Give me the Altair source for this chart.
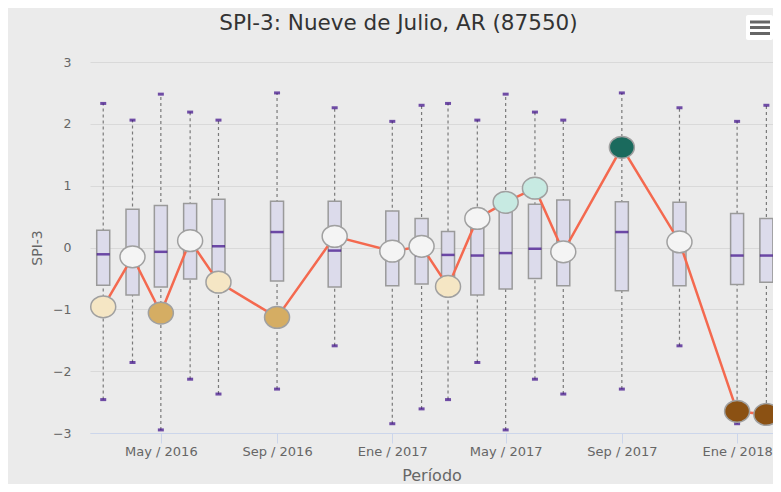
import altair as alt
import pandas as pd

# ---- data ----
periods = ["2016-03-01", "2016-04-01", "2016-05-01", "2016-06-01", "2016-07-01",
           "2016-09-01", "2016-11-01", "2017-01-01", "2017-02-01", "2017-03-01",
           "2017-04-01", "2017-05-01", "2017-06-01", "2017-07-01", "2017-09-01",
           "2017-11-01", "2018-01-01", "2018-02-01"]
upper = [2.33, 2.06, 2.48, 2.19, 2.06, 2.50, 2.26, 2.04, 2.30,
         2.33, 2.06, 2.48, 2.19, 2.06, 2.50, 2.26, 2.04, 2.30]
q3 = [0.28, 0.62, 0.68, 0.71, 0.78, 0.75, 0.75, 0.59, 0.47,
      0.26, 0.62, 0.68, 0.70, 0.77, 0.74, 0.73, 0.55, 0.47]
median = [-0.11, -0.13, -0.07, -0.02, 0.02, 0.25, -0.05, -0.13, -0.13,
          -0.12, -0.13, -0.09, -0.02, 0.02, 0.25, -0.05, -0.13, -0.13]
q1 = [-0.61, -0.77, -0.64, -0.51, -0.62, -0.54, -0.64, -0.62, -0.59,
      -0.61, -0.77, -0.67, -0.50, -0.62, -0.70, -0.62, -0.60, -0.56]
lower = [-2.46, -1.86, -2.95, -2.13, -2.37, -2.29, -1.59, -2.85, -2.61,
         -2.46, -1.86, -2.95, -2.13, -2.37, -2.29, -1.59, -2.85, -2.61]
spi = [-0.96, -0.15, -1.06, 0.11, -0.56, -1.13, 0.18, -0.06, 0.02,
       -0.63, 0.47, 0.73, 0.96, -0.07, 1.62, 0.09, -2.65, -2.70]
point_colors = ["#f5e6c4", "#f4f4f4", "#d5ad63", "#f4f4f4", "#f5e6c4", "#d5ad63",
                "#f4f4f4", "#f4f4f4", "#f4f4f4", "#f5e6c4", "#f4f4f4", "#c7eae2",
                "#c7eae2", "#f4f4f4", "#1a6a5d", "#f4f4f4", "#8b5113", "#8b5113"]
tick_months = [(2016, 5), (2016, 9), (2017, 1), (2017, 5), (2017, 9), (2018, 1)]
month_names = ["Ene", "Feb", "Mar", "Abr", "May", "Jun",
               "Jul", "Ago", "Sep", "Oct", "Nov", "Dic"]

df = pd.DataFrame({
    "periodo": periods, "upper": upper, "q3": q3, "median": median,
    "q1": q1, "lower": lower, "spi": spi, "color": point_colors,
})

names_js = "[" + ",".join("'%s'" % m for m in month_names) + "]"
x_axis = alt.Axis(
    title="Período",
    values=[alt.DateTime(year=y, month=m, date=1, utc=True) for y, m in tick_months],
    labelExpr=names_js + "[utcmonth(datum.value)] + ' / ' + utcyear(datum.value)",
    grid=False, domainColor="#ccd6eb", tickColor="#ccd6eb", tickSize=10,
    labelPadding=2, titlePadding=9, labelFontSize=13, titleFontSize=16,
)
x_enc = alt.X(
    "periodo:T", axis=x_axis,
    scale=alt.Scale(type="utc", padding=0, domain=[
        alt.DateTime(year=2016, month=2, date=16, utc=True),
        alt.DateTime(year=2018, month=2, date=8, utc=True)]),
)
y_scale = alt.Scale(domain=[-3, 3], nice=False, zero=False, padding=0)
y_axis = alt.Axis(title="SPI-3", values=[-3, -2, -1, 0, 1, 2, 3], ticks=False,
                  domain=False, labelPadding=19, titlePadding=8,
                  labelFontSize=12.5, titleFontSize=14, gridColor="#d9d9d9")

base = alt.Chart(df)

whisker = base.mark_rule(color="#7a7a7a", strokeDash=[3, 3], strokeWidth=1.2).encode(
    x=x_enc, y=alt.Y("lower:Q", scale=y_scale, axis=y_axis), y2="upper:Q")
cap_hi = base.mark_tick(orient="horizontal", size=6, thickness=3, color="#3a0888").encode(
    x=x_enc, y=alt.Y("upper:Q", scale=y_scale, axis=y_axis))
cap_lo = base.mark_tick(orient="horizontal", size=6, thickness=3, color="#3a0888").encode(
    x=x_enc, y=alt.Y("lower:Q", scale=y_scale, axis=y_axis))
box = base.mark_bar(size=13, color="#dcdbeb", stroke="#9a9a9a", strokeWidth=1.5).encode(
    x=x_enc, y=alt.Y("q1:Q", scale=y_scale, axis=y_axis), y2="q3:Q")
med = base.mark_tick(orient="horizontal", size=13, thickness=2.5, color="#3a0888").encode(
    x=x_enc, y=alt.Y("median:Q", scale=y_scale, axis=y_axis))
line = base.mark_line(color="#f4694f", strokeWidth=2.5).encode(
    x=x_enc, y=alt.Y("spi:Q", scale=y_scale, axis=y_axis))
ellipse = "M -1,0 A 1,0.87 0 1,1 1,0 A 1,0.87 0 1,1 -1,0 Z"
points = base.mark_point(shape=ellipse, size=625, filled=True, fillOpacity=1, opacity=1,
                         stroke="#a0a0a0", strokeWidth=1.5).encode(
    x=x_enc, y=alt.Y("spi:Q", scale=y_scale, axis=y_axis),
    fill=alt.Fill("color:N", scale=None))

menu_data = alt.Data(values=[{"k": 1}])
menu_bg = alt.Chart(menu_data).mark_rect(color="white", cornerRadius=2).encode(
    x=alt.value(656), x2=alt.value(683), y=alt.value(-47), y2=alt.value(-22))
menu_bars = [
    alt.Chart(menu_data).mark_rule(color="#666666", strokeWidth=3).encode(
        x=alt.value(660), x2=alt.value(680), y=alt.value(yy))
    for yy in (-40, -34.5, -28.5)
]

chart = alt.layer(whisker, cap_hi, cap_lo, box, med, line, points, menu_bg, *menu_bars).properties(
    width=683, height=371,
    title=alt.TitleParams("SPI-3: Nueve de Julio, AR (87550)", fontSize=21.5,
                          font="DejaVu Sans", fontWeight="normal", color="#333333",
                          anchor="middle", frame="group", dx=-33, offset=-36,
                          baseline="alphabetic"),
    autosize=alt.AutoSizeParams(type="none"),
    padding={"left": 82, "top": 54, "right": 0, "bottom": 51},
).configure(
    background="#ebebeb",
    font="DejaVu Sans",
).configure_view(stroke=None).configure_axis(
    labelColor="#666666", titleColor="#666666", titleFontWeight="normal",
    labelFont="DejaVu Sans", titleFont="DejaVu Sans",
)

chart.save("out.html", embed_options={"renderer": "svg", "actions": False})
